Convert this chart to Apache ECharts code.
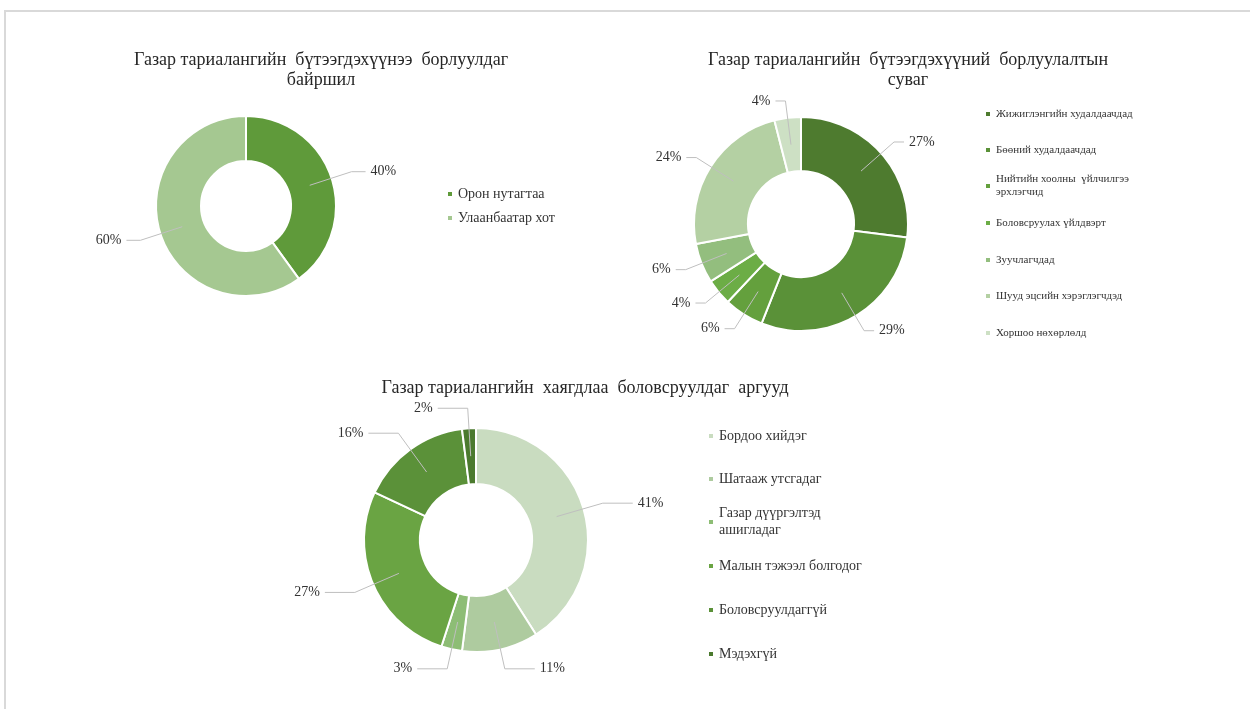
<!DOCTYPE html>
<html>
<head>
<meta charset="utf-8">
<script src="https://cdn.jsdelivr.net/npm/echarts@6/dist/echarts.min.js"></script>
<style>
  html, body { margin: 0; padding: 0; background: #fff; }
  #frame { position: absolute; left: 4px; top: 10px; width: 1246px; height: 699px;
           border-left: 2px solid #d9d9d9; border-top: 2px solid #d9d9d9; box-sizing: border-box; }
  #main { position: absolute; left: 0; top: 0; width: 1250px; height: 709px; }
</style>
</head>
<body>
<div id="frame"></div>
<div id="main"></div>
<script>
// ---- data ----
var placeNames = ['Орон нутагтаа', 'Улаанбаатар хот'];
var placeValues = [40, 60];

var channelNames = [
    'Жижиглэнгийн худалдаачдад',
    'Бөөний худалдаачдад',
    'Нийтийн хоолны үйлчилгээ эрхлэгчид',
    'Боловсруулах үйлдвэрт',
    'Зуучлагчдад',
    'Шууд эцсийн хэрэглэгчдэд',
    'Хоршоо нөхөрлөлд'
];
var channelValues = [27, 29, 6, 4, 6, 24, 4];

var wasteNames = [
    'Бордоо хийдэг',
    'Шатааж утсгадаг',
    'Газар дүүргэлтэд ашигладаг',
    'Малын тэжээл болгодог',
    'Боловсруулдаггүй',
    'Мэдэхгүй'
];
var wasteValues = [41, 11, 3, 27, 16, 2];

var titles = [
    'Газар тариалангийн  бүтээгдэхүүнээ  борлуулдаг\nбайршил',
    'Газар тариалангийн  бүтээгдэхүүний  борлуулалтын\nсуваг',
    'Газар тариалангийн  хаягдлаа  боловсруулдаг  аргууд'
];

// line breaks used in the legends
var wrapped = {
    'Нийтийн хоолны үйлчилгээ эрхлэгчид': 'Нийтийн хоолны  үйлчилгээ\nэрхлэгчид',
    'Газар дүүргэлтэд ашигладаг': 'Газар дүүргэлтэд\nашигладаг'
};

var font = '"Liberation Serif", "Times New Roman", serif';
var textColor = '#333333';

var placeColors = ['#5f9a3a', '#a5c891'];
var channelColors = ['#4e7b2f', '#5a9138', '#64a03d', '#6cad46', '#93be7e', '#b4d0a3', '#cde0c4'];
var wasteColors = ['#c9dcc0', '#aecb9f', '#8dbd75', '#6aa443', '#5b9139', '#4b7a2e'];

function toData(names, values) {
    return names.map(function (n, i) { return { name: n, value: values[i] }; });
}

function makeLegends(names, x, ys, fontSize) {
    return names.map(function (n, i) {
        var lines = (wrapped[n] || n).split('\n').length;
        return {
            data: [n],
            orient: 'vertical',
            left: x,
            top: ys[i] - fontSize * 0.6 * lines,
            padding: 0,
            icon: 'rect',
            itemWidth: 6,
            itemHeight: 6,
            formatter: function (name) { return wrapped[name] || name; },
            textStyle: { fontFamily: font, fontSize: fontSize, color: textColor, lineHeight: fontSize * 1.2 }
        };
    });
}

// the visible ring
function makePie(names, values, colors, center, radius) {
    return {
        type: 'pie',
        center: center,
        radius: radius,
        startAngle: 90,
        clockwise: true,
        color: colors,
        z: 2,
        itemStyle: { borderColor: '#fff', borderWidth: 2 },
        label: { show: false },
        labelLine: { show: false },
        emphasis: { disabled: true },
        data: toData(names, values)
    };
}

// invisible pie reaching to the middle of the ring, only to carry the labels
// (leader lines start inside the ring as in the original)
function makeLabels(names, values, center, midR, len, len2) {
    return {
        type: 'pie',
        center: center,
        radius: [0, midR],
        startAngle: 90,
        clockwise: true,
        silent: true,
        z: 5,
        avoidLabelOverlap: false,
        itemStyle: { color: 'rgba(0,0,0,0)', borderWidth: 0 },
        label: {
            show: true,
            position: 'outside',
            formatter: '{c}%',
            fontFamily: font,
            fontSize: 14,
            color: textColor
        },
        labelLine: {
            show: true,
            length: len,
            length2: len2,
            lineStyle: { color: '#bfbfbf', width: 1 }
        },
        emphasis: { disabled: true },
        data: toData(names, values)
    };
}

var dom = document.getElementById('main');
var myChart = echarts.init(dom, null, { renderer: 'canvas' });

var titleStyle = { fontFamily: font, fontSize: 18, fontWeight: 'normal', color: '#262626', lineHeight: 20 };

var option = {
    backgroundColor: 'transparent',
    animation: false,
    title: [
        { text: titles[0], left: 316, top: 45, textAlign: 'center', textStyle: titleStyle },
        { text: titles[1], left: 903, top: 45, textAlign: 'center', textStyle: titleStyle },
        { text: titles[2], left: 580, top: 373, textAlign: 'center', textStyle: titleStyle }
    ],
    legend: []
        .concat(makeLegends(placeNames, 446, [194, 218], 14))
        .concat(makeLegends(channelNames, 984, [114, 150, 186, 223, 260, 296, 333], 11))
        .concat(makeLegends(wasteNames, 707, [436, 479, 522, 566, 610, 654], 14)),
    series: [
        makePie(placeNames, placeValues, placeColors, [246, 206], [45, 90]),
        makePie(channelNames, channelValues, channelColors, [801, 224], [53, 107]),
        makePie(wasteNames, wasteValues, wasteColors, [476, 540], [56, 112]),
        makeLabels(placeNames, placeValues, [246, 206], 67, 44, 14),
        makeLabels(channelNames, channelValues, [801, 224], 80, 44, 10),
        makeLabels(wasteNames, wasteValues, [476, 540], 84, 48, 30)
    ]
};

if (option && typeof option === 'object') {
    myChart.setOption(option);
}
</script>
</body>
</html>
